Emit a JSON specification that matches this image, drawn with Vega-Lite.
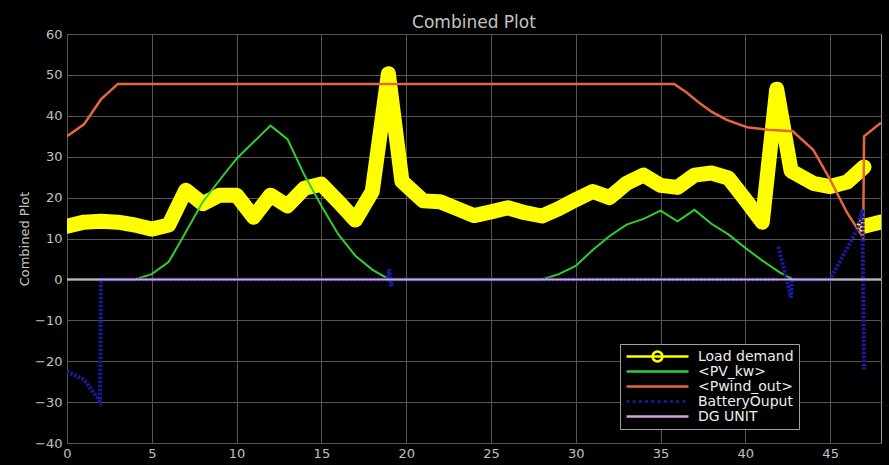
{
  "$schema": "https://vega.github.io/schema/vega-lite/v6.json",
  "width": 814,
  "height": 409,
  "autosize": {"type": "none"},
  "padding": {"left": 67, "top": 34, "right": 8, "bottom": 22},
  "background": "#000000",
  "title": {"text": "Combined Plot", "color": "#c4c4c4", "font": "DejaVu Sans", "fontSize": 17, "fontWeight": "normal", "offset": -4},
  "config": {
    "view": {"stroke": "#9a9a9a", "strokeWidth": 1, "fill": "#000000"},
    "axis": {"gridColor": "#555555", "gridWidth": 1, "gridOpacity": 1, "domain": false, "ticks": false, "labelColor": "#c0c0c0", "labelFont": "DejaVu Sans", "labelFontSize": 13, "titleColor": "#c4c4c4", "titleFont": "DejaVu Sans", "titleFontSize": 13, "titleFontWeight": "normal"},
    "legend": {"orient": "none", "legendX": 553, "legendY": 310, "fillColor": "#000000", "strokeColor": "#a0a0a0", "padding": 5, "symbolSize": 3844, "clipHeight": 15, "symbolStrokeWidth": 2.5, "labelFont": "DejaVu Sans", "labelFontSize": 14, "labelColor": "#eeeeee", "labelOffset": 8, "rowPadding": 0}
  },
  "data": {"values": [
    {"s": "Load demand", "g": 1, "x": 0, "y": 13},
    {"s": "Load demand", "g": 1, "x": 1, "y": 14},
    {"s": "Load demand", "g": 1, "x": 2, "y": 14.2},
    {"s": "Load demand", "g": 1, "x": 3, "y": 14},
    {"s": "Load demand", "g": 1, "x": 4, "y": 13.3},
    {"s": "Load demand", "g": 1, "x": 5, "y": 12.3},
    {"s": "Load demand", "g": 1, "x": 6, "y": 13.3},
    {"s": "Load demand", "g": 1, "x": 7, "y": 21.8},
    {"s": "Load demand", "g": 1, "x": 8, "y": 18.5},
    {"s": "Load demand", "g": 1, "x": 9, "y": 20.6},
    {"s": "Load demand", "g": 1, "x": 10, "y": 20.6},
    {"s": "Load demand", "g": 1, "x": 11, "y": 15.2},
    {"s": "Load demand", "g": 1, "x": 12, "y": 20.6},
    {"s": "Load demand", "g": 1, "x": 13, "y": 18},
    {"s": "Load demand", "g": 1, "x": 14, "y": 22.3},
    {"s": "Load demand", "g": 1, "x": 15, "y": 23.3},
    {"s": "Load demand", "g": 1, "x": 16, "y": 19},
    {"s": "Load demand", "g": 1, "x": 17, "y": 14.5},
    {"s": "Load demand", "g": 1, "x": 18, "y": 21.5},
    {"s": "Load demand", "g": 1, "x": 18.95, "y": 50.3},
    {"s": "Load demand", "g": 1, "x": 19.75, "y": 24},
    {"s": "Load demand", "g": 1, "x": 21, "y": 19.2},
    {"s": "Load demand", "g": 1, "x": 22, "y": 19},
    {"s": "Load demand", "g": 1, "x": 23, "y": 17.3},
    {"s": "Load demand", "g": 1, "x": 24, "y": 15.6},
    {"s": "Load demand", "g": 1, "x": 25, "y": 16.5},
    {"s": "Load demand", "g": 1, "x": 26, "y": 17.5},
    {"s": "Load demand", "g": 1, "x": 27, "y": 16.3},
    {"s": "Load demand", "g": 1, "x": 28, "y": 15.5},
    {"s": "Load demand", "g": 1, "x": 29, "y": 17.3},
    {"s": "Load demand", "g": 1, "x": 30, "y": 19.5},
    {"s": "Load demand", "g": 1, "x": 31, "y": 21.5},
    {"s": "Load demand", "g": 1, "x": 32, "y": 20},
    {"s": "Load demand", "g": 1, "x": 33, "y": 23.5},
    {"s": "Load demand", "g": 1, "x": 34, "y": 25.5},
    {"s": "Load demand", "g": 1, "x": 35, "y": 23},
    {"s": "Load demand", "g": 1, "x": 36, "y": 22.5},
    {"s": "Load demand", "g": 1, "x": 37, "y": 25.5},
    {"s": "Load demand", "g": 1, "x": 38, "y": 26},
    {"s": "Load demand", "g": 1, "x": 39, "y": 24.8},
    {"s": "Load demand", "g": 1, "x": 40, "y": 19.5},
    {"s": "Load demand", "g": 1, "x": 41, "y": 14},
    {"s": "Load demand", "g": 1, "x": 41.85, "y": 46.5},
    {"s": "Load demand", "g": 1, "x": 42.7, "y": 26.5},
    {"s": "Load demand", "g": 1, "x": 44, "y": 23.5},
    {"s": "Load demand", "g": 1, "x": 45, "y": 22.7},
    {"s": "Load demand", "g": 1, "x": 46, "y": 23.8},
    {"s": "Load demand", "g": 1, "x": 47, "y": 27.5},
    {"s": "Load demand", "g": 2, "x": 47, "y": 13},
    {"s": "Load demand", "g": 2, "x": 48, "y": 14},
    {"s": "<PV_kw>", "g": 1, "x": 0, "y": 0},
    {"s": "<PV_kw>", "g": 1, "x": 4, "y": 0},
    {"s": "<PV_kw>", "g": 1, "x": 5, "y": 1.3},
    {"s": "<PV_kw>", "g": 1, "x": 6, "y": 4.3},
    {"s": "<PV_kw>", "g": 1, "x": 7, "y": 11.5},
    {"s": "<PV_kw>", "g": 1, "x": 8, "y": 18.9},
    {"s": "<PV_kw>", "g": 1, "x": 9, "y": 24.3},
    {"s": "<PV_kw>", "g": 1, "x": 10, "y": 29.5},
    {"s": "<PV_kw>", "g": 1, "x": 11, "y": 33.6},
    {"s": "<PV_kw>", "g": 1, "x": 12, "y": 37.6},
    {"s": "<PV_kw>", "g": 1, "x": 13, "y": 34.3},
    {"s": "<PV_kw>", "g": 1, "x": 14, "y": 25.5},
    {"s": "<PV_kw>", "g": 1, "x": 15, "y": 18},
    {"s": "<PV_kw>", "g": 1, "x": 16, "y": 11},
    {"s": "<PV_kw>", "g": 1, "x": 17, "y": 5.8},
    {"s": "<PV_kw>", "g": 1, "x": 18, "y": 2.4},
    {"s": "<PV_kw>", "g": 1, "x": 19, "y": 0},
    {"s": "<PV_kw>", "g": 1, "x": 28, "y": 0},
    {"s": "<PV_kw>", "g": 1, "x": 29, "y": 1.3},
    {"s": "<PV_kw>", "g": 1, "x": 30, "y": 3.3},
    {"s": "<PV_kw>", "g": 1, "x": 31, "y": 7.2},
    {"s": "<PV_kw>", "g": 1, "x": 32, "y": 10.6},
    {"s": "<PV_kw>", "g": 1, "x": 33, "y": 13.4},
    {"s": "<PV_kw>", "g": 1, "x": 34, "y": 14.8},
    {"s": "<PV_kw>", "g": 1, "x": 35, "y": 16.8},
    {"s": "<PV_kw>", "g": 1, "x": 36, "y": 14.2},
    {"s": "<PV_kw>", "g": 1, "x": 37, "y": 17},
    {"s": "<PV_kw>", "g": 1, "x": 38, "y": 13.6},
    {"s": "<PV_kw>", "g": 1, "x": 39, "y": 11},
    {"s": "<PV_kw>", "g": 1, "x": 40, "y": 7.7},
    {"s": "<PV_kw>", "g": 1, "x": 41, "y": 4.6},
    {"s": "<PV_kw>", "g": 1, "x": 42, "y": 1.8},
    {"s": "<PV_kw>", "g": 1, "x": 42.8, "y": 0},
    {"s": "<PV_kw>", "g": 1, "x": 48, "y": 0},
    {"s": "<Pwind_out>", "g": 1, "x": 0, "y": 35},
    {"s": "<Pwind_out>", "g": 1, "x": 1, "y": 37.9},
    {"s": "<Pwind_out>", "g": 1, "x": 2, "y": 44},
    {"s": "<Pwind_out>", "g": 1, "x": 3, "y": 47.8},
    {"s": "<Pwind_out>", "g": 1, "x": 35.8, "y": 47.8},
    {"s": "<Pwind_out>", "g": 1, "x": 36.5, "y": 45.8},
    {"s": "<Pwind_out>", "g": 1, "x": 37.3, "y": 43.1},
    {"s": "<Pwind_out>", "g": 1, "x": 38, "y": 41},
    {"s": "<Pwind_out>", "g": 1, "x": 38.9, "y": 39},
    {"s": "<Pwind_out>", "g": 1, "x": 40.1, "y": 37.2},
    {"s": "<Pwind_out>", "g": 1, "x": 41.3, "y": 36.6},
    {"s": "<Pwind_out>", "g": 1, "x": 42.8, "y": 36.2},
    {"s": "<Pwind_out>", "g": 1, "x": 44, "y": 31.7},
    {"s": "<Pwind_out>", "g": 1, "x": 45, "y": 24.4},
    {"s": "<Pwind_out>", "g": 1, "x": 46, "y": 16.3},
    {"s": "<Pwind_out>", "g": 1, "x": 46.95, "y": 10.2},
    {"s": "<Pwind_out>", "g": 1, "x": 47, "y": 35},
    {"s": "<Pwind_out>", "g": 1, "x": 48, "y": 38.3},
    {"s": "BatteryOuput", "g": 1, "x": 0, "y": -22.5},
    {"s": "BatteryOuput", "g": 1, "x": 1, "y": -24.5},
    {"s": "BatteryOuput", "g": 1, "x": 1.95, "y": -29.8},
    {"s": "BatteryOuput", "g": 1, "x": 2, "y": 0},
    {"s": "BatteryOuput", "g": 1, "x": 18.9, "y": 0},
    {"s": "BatteryOuput", "g": 1, "x": 19, "y": 2.5},
    {"s": "BatteryOuput", "g": 1, "x": 19.1, "y": -1.7},
    {"s": "BatteryOuput", "g": 1, "x": 19.2, "y": 0},
    {"s": "BatteryOuput", "g": 1, "x": 41.9, "y": 0},
    {"s": "BatteryOuput", "g": 2, "x": 41.95, "y": 8},
    {"s": "BatteryOuput", "g": 2, "x": 42.7, "y": -4.5},
    {"s": "BatteryOuput", "g": 2, "x": 42.75, "y": 0},
    {"s": "BatteryOuput", "g": 2, "x": 45, "y": 0},
    {"s": "BatteryOuput", "g": 2, "x": 46.6, "y": 12.2},
    {"s": "BatteryOuput", "g": 2, "x": 46.9, "y": 17},
    {"s": "BatteryOuput", "g": 2, "x": 47, "y": -22},
    {"s": "DG UNIT", "g": 1, "x": 0, "y": 0},
    {"s": "DG UNIT", "g": 1, "x": 48, "y": 0}
  ]},
  "encoding": {
    "x": {"field": "x", "type": "quantitative", "scale": {"domain": [0, 48], "nice": false, "zero": false}, "axis": {"values": [0, 5, 10, 15, 20, 25, 30, 35, 40, 45], "title": null, "labelPadding": 4, "grid": true, "labelFlush": false}},
    "y": {"field": "y", "type": "quantitative", "scale": {"domain": [-40, 60], "nice": false, "zero": false}, "axis": {"values": [-40, -30, -20, -10, 0, 10, 20, 30, 40, 50, 60], "title": "Combined Plot", "labelPadding": 5, "titlePadding": 3, "grid": true, "labelFlush": false}},
    "color": {"field": "s", "type": "nominal", "scale": {"domain": ["Load demand", "<PV_kw>", "<Pwind_out>", "BatteryOuput", "DG UNIT"], "range": ["#ffff00", "#2fcf2f", "#e5673f", "#1a1aa0", "#d4a5d8"]}, "legend": {"title": null, "encode": {"symbols": {"update": {"strokeWidth": {"value": 2.5}, "fill": {"value": "transparent"}, "strokeDash": {"value": []}, "opacity": {"value": 1}}}}}}
  },
  "layer": [
    {
      "transform": [{"filter": "false"}],
      "mark": {"type": "point", "filled": false},
      "encoding": {
        "shape": {"field": "s", "type": "nominal", "scale": {"domain": ["Load demand", "<PV_kw>", "<Pwind_out>", "BatteryOuput", "DG UNIT"], "range": ["M-1,0H1M-0.16,0A0.16,0.16,0,1,1,0.16,0A0.16,0.16,0,1,1,-0.16,0", "M-1,0H1", "M-1,0H1", "M-1,0H-0.9M-0.8,0H-0.7M-0.6,0H-0.5M-0.4,0H-0.3M-0.2,0H-0.1M0,0H0.1M0.2,0H0.3M0.4,0H0.5M0.6,0H0.7M0.8,0H0.9", "M-1,0H1"]}, "legend": {"title": null}}
      }
    },
    {
      "transform": [{"filter": "datum.s == 'Load demand'"}],
      "mark": {"type": "line", "strokeWidth": 15, "strokeCap": "round", "strokeJoin": "round", "clip": true},
      "encoding": {"detail": {"field": "g"}}
    },
    {
      "transform": [{"filter": "datum.s == '<PV_kw>'"}],
      "mark": {"type": "line", "strokeWidth": 2, "clip": true},
      "encoding": {"detail": {"field": "g"}}
    },
    {
      "transform": [{"filter": "datum.s == '<Pwind_out>'"}],
      "mark": {"type": "line", "strokeWidth": 2.5, "clip": true},
      "encoding": {"detail": {"field": "g"}}
    },
    {
      "transform": [{"filter": "datum.s == 'BatteryOuput'"}],
      "mark": {"type": "line", "strokeWidth": 4, "strokeDash": [2.5, 1.5], "clip": true},
      "encoding": {"detail": {"field": "g"}}
    },
    {
      "transform": [{"filter": "datum.s == 'DG UNIT'"}],
      "mark": {"type": "line", "strokeWidth": 2, "clip": true},
      "encoding": {"detail": {"field": "g"}}
    }
  ]
}
